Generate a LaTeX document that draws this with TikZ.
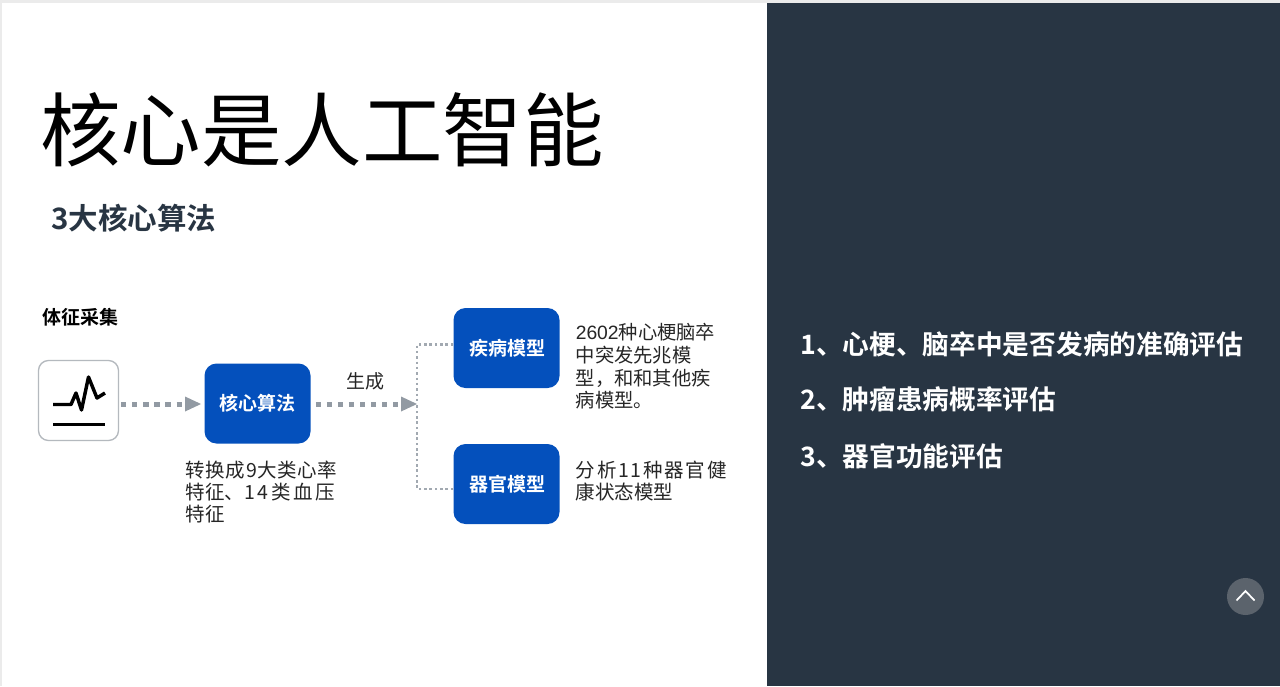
\documentclass[tikz,border=0pt]{standalone}
\usepackage{fontspec}
\setmainfont{Noto Sans CJK SC}
\newfontfamily\cjkbold{Noto Sans CJK SC Bold}
\newfontfamily\digitfont{Liberation Sans}
\usetikzlibrary{arrows.meta}
\definecolor{navy}{HTML}{283543}
\definecolor{bluebox}{HTML}{0450BC}
\definecolor{arrowgray}{HTML}{929AA3}
\definecolor{edgegray}{HTML}{B4B9BE}
\definecolor{bodytext}{HTML}{262626}
\definecolor{upcircle}{HTML}{5B636C}
\newcommand{\pxfont}[1]{\fontsize{\dimexpr#1pt*3/4\relax}{\dimexpr#1pt*3/4\relax}\selectfont}
\tikzset{
  x=0.75pt,y=-0.75pt,
  bluenode/.style={fill=bluebox,rounded corners=9pt,minimum width=79.5pt,minimum height=60pt,inner sep=0pt,text=white,font=\cjkbold\pxfont{19}},
  bodyline/.style={anchor=west,inner sep=0pt,text=bodytext,font=\pxfont{19.5}},
  rightline/.style={anchor=west,inner sep=0pt,text=white,font=\cjkbold\pxfont{26.7}},
  thickdots/.style={arrowgray,line width=3.75pt,dash pattern=on 3.9pt off 4.4pt},
  thindots/.style={arrowgray!85,line width=1.9pt,dash pattern=on 1.9pt off 2.1pt},
  tip/.style={fill=arrowgray,draw=none}
}
\begin{document}
\begin{tikzpicture}
\useasboundingbox (0,0) rectangle (1280,686);
\fill[white] (0,0) rectangle (1280,686);
\fill[black!8] (0,0) rectangle (1280,3);
\fill[black!8] (0,0) rectangle (1.5,686);
\fill[navy] (767,3) rectangle (1280,686);
\node[anchor=west,inner sep=0pt,text=black,font=\pxfont{80.5}] (title) at (40,130) {核心是人工智能};
\node[anchor=west,inner sep=0pt,text=navy,font=\cjkbold\pxfont{29.5}] (sub) at (51,218) {3大核心算法};
\node[anchor=west,inner sep=0pt,text=black,font=\cjkbold\pxfont{19}] (collect) at (42,317) {体征采集};
\node[draw=edgegray,line width=1pt,fill=white,rounded corners=7.5pt,minimum width=60pt,minimum height=60pt,inner sep=0pt] (sensor) at (78.5,400.5) {};
\draw[black,line width=2.6pt,line join=round] (53,404.5) -- (71,404.5) -- (76,393) -- (81.5,410) -- (88.5,377) -- (97,398) -- (105,393);
\draw[black,line width=2.6pt] (53,424.5) -- (105,424.5);
\node[bluenode] (algo) at (257.5,403.5) {核心算法};
\node[bluenode] (disease) at (506.5,348) {\raisebox{1.5pt}{\hspace{1pt}疾病模型}};
\node[bluenode] (organ) at (506.5,484) {\hspace{1pt}器官模型};
\coordinate (j) at (417,404);
\coordinate (t1) at (201,404);
\coordinate (t2) at (417,404);
\fill[tip] (t1) -- ++(-16,-7.5) -- ++(0,15) -- cycle;
\fill[tip] (t2) -- ++(-16,-7.5) -- ++(0,15) -- cycle;
\draw[thickdots] (sensor.east)++(2,3.5) -- (185,404);
\draw[thickdots] (algo.east)++(5,0.5) -- (401,404);
\draw[thindots] (disease.west)++(0,-3.5) -| (j);
\draw[thindots] (organ.west)++(0,5) -| (j);
\node[anchor=center,inner sep=0pt,text=bodytext,font=\pxfont{19}] (gen) at (365,381) {生成};
\node[bodyline] (a1) at (185.5,470) {\addfontfeature{LetterSpace=3}转换成9大类心率};
\node[bodyline] (a2) at (185.5,492) {特征、\addfontfeature{LetterSpace=14}14类血压};
\node[bodyline] (a3) at (185.5,514) {特征};
\node[bodyline,font=\pxfont{19.3}] (d1) at (575.5,332) {{\digitfont 2602}种心梗脑卒};
\node[bodyline,font=\pxfont{19.3}] (d2) at (575.5,355) {中突发先兆模};
\node[bodyline,font=\pxfont{19.3}] (d3) at (575.5,378) {型，和和其他疾};
\node[bodyline,font=\pxfont{19.3}] (d4) at (575.5,400) {病模型。};
\node[bodyline] (o1) at (575.5,470) {\addfontfeature{LetterSpace=9}分析11种器官健};
\node[bodyline] (o2) at (575.5,492) {康状态模型};
\node[rightline] (r1) at (800,344) {1、心梗、脑卒中是否发病的准确评估};
\node[rightline] (r2) at (800,399) {2、肿瘤患病概率评估};
\node[rightline] (r3) at (800,456) {3、器官功能评估};
\node[circle,fill=upcircle,minimum width=27.75pt,inner sep=0pt] (up) at (1245.5,596.5) {};
\draw[white,line width=1.3pt] (1236.5,600.5) -- (1245.5,591) -- (1254.5,600.5);
\end{tikzpicture}
\end{document}
